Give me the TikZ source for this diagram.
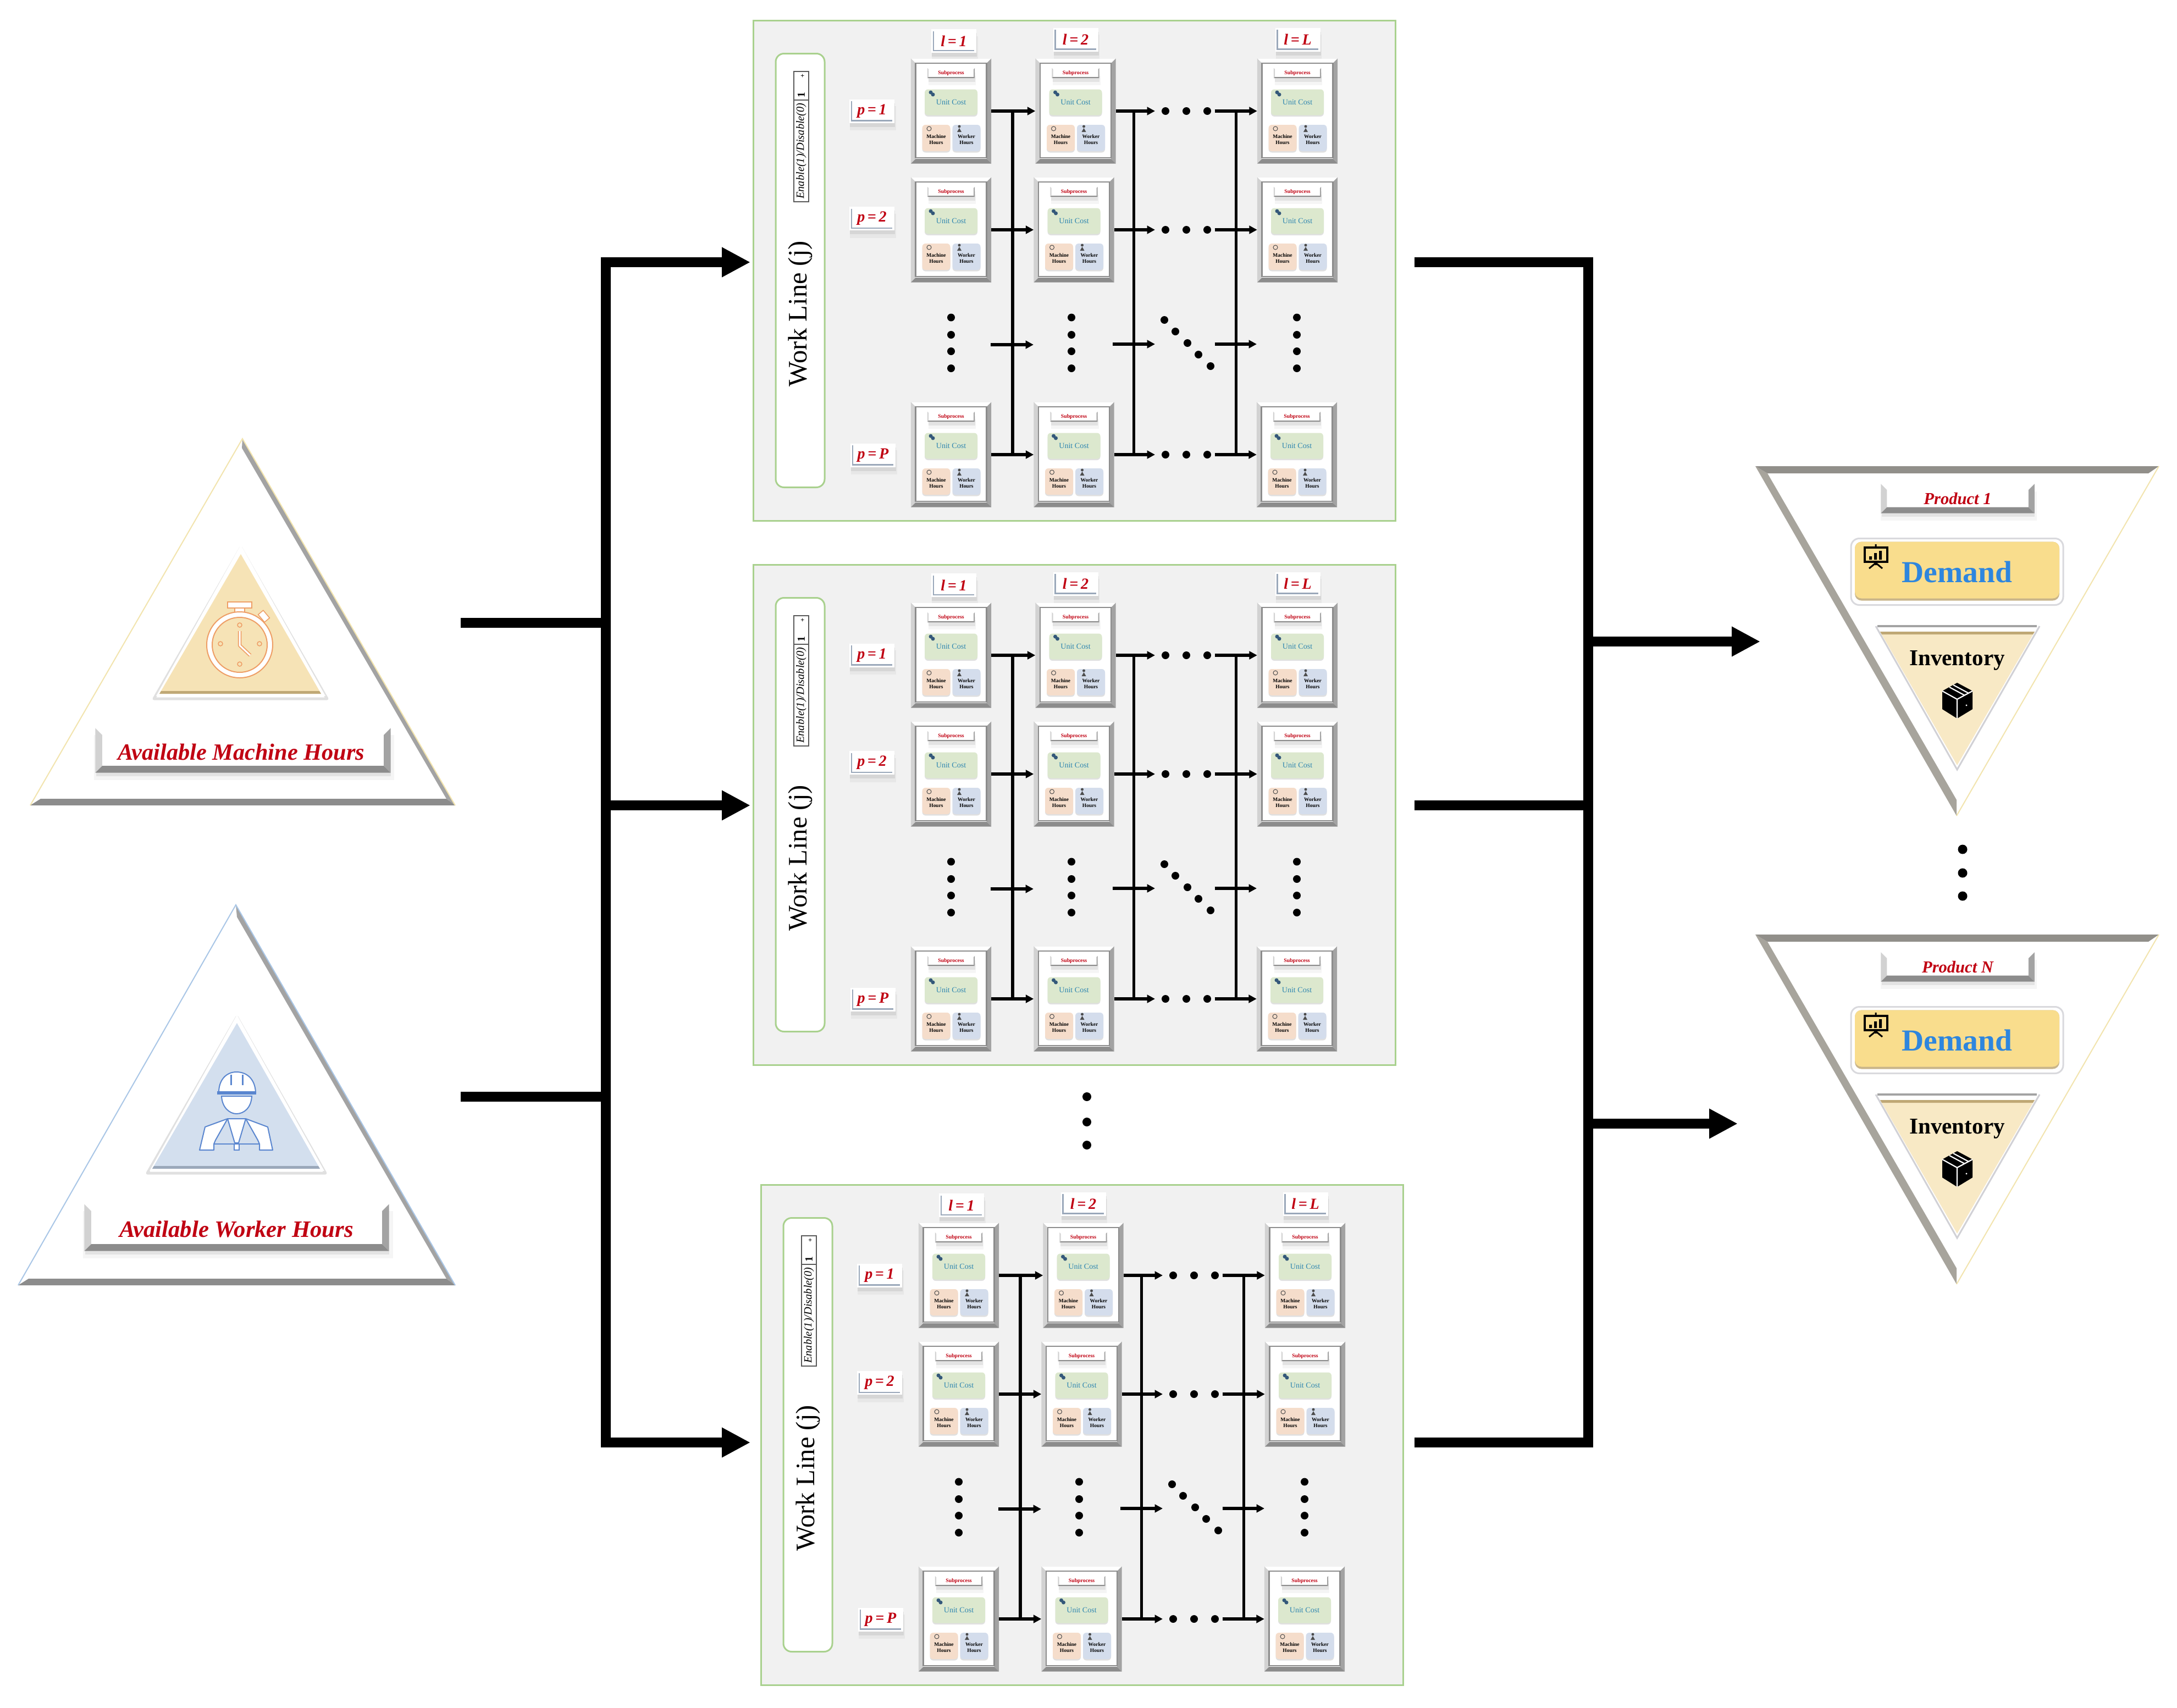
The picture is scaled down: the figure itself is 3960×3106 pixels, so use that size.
\documentclass[tikz,border=0pt]{standalone}
\usepackage{xcolor}
\usepackage{fontspec}
\setmainfont{Liberation Serif}
\usepackage{tikz}
\usetikzlibrary{positioning, arrows.meta, calc, shadows}
\definecolor{panelfill}{HTML}{F1F1F1}
\definecolor{panelline}{HTML}{A9D18E}
\definecolor{labelred}{HTML}{C00012}
\definecolor{bevdark}{HTML}{8C8C8C}
\definecolor{bevmid}{HTML}{A3A3A3}
\definecolor{bevlight}{HTML}{D2D2D2}
\definecolor{sand}{HTML}{F6E3B6}
\definecolor{sandedge}{HTML}{BFA875}
\definecolor{sky}{HTML}{D3DFEE}
\definecolor{skyedge}{HTML}{9AA8BA}
\definecolor{clockline}{HTML}{EE9E66}
\definecolor{hatline}{HTML}{5A86CF}
\definecolor{paleyellow}{HTML}{F2E4AE}
\definecolor{paleblue}{HTML}{A9C6E6}
\definecolor{costgreen}{HTML}{DCE8CE}
\definecolor{costtext}{HTML}{2F86B0}
\definecolor{coinblue}{HTML}{34587A}
\definecolor{hourpeach}{HTML}{F5DDCB}
\definecolor{hourblue}{HTML}{D4DDEC}
\definecolor{demandgold}{HTML}{F9DD8D}
\definecolor{demandblue}{HTML}{2E86DE}

% bevel bands round a bar
\newcommand{\bevels}[2]{
  \fill[bevlight] (#1.south west) -- (#1.north west) -- ($(#1.north west)+(#2,-#2)$) -- ($(#1.south west)+(#2,#2)$) -- cycle;
  \fill[bevmid] (#1.south east) -- (#1.north east) -- ($(#1.north east)+(-#2,-#2)$) -- ($(#1.south east)+(-#2,#2)$) -- cycle;
  \fill[bevdark] (#1.south west) -- (#1.south east) -- ($(#1.south east)+(-#2,#2)$) -- ($(#1.south west)+(#2,#2)$) -- cycle;
}
% index tag with its thin rule
\newcommand{\idxtag}[3]{
  \node[idxbox] (#1) at (#2) {#3};
  \draw[idxrule] ($(#1.north west)+(.45mm,-.45mm)$) |- ($(#1.south east)+(-.45mm,.45mm)$);
}

\tikzset{
  softshadow/.style={
    general shadow={fill=black, opacity=.04, shadow xshift=.2mm, shadow yshift=-1.3mm, shadow scale=1.02},
    general shadow={fill=black, opacity=.07, shadow xshift=.1mm, shadow yshift=-.7mm, shadow scale=1}},
  lightshadow/.style={general shadow={fill=black, opacity=.12, shadow xshift=0mm, shadow yshift=-.25mm}},
  barbox/.style={rectangle, fill=white, inner sep=0pt, softshadow},
  idxbox/.style={rectangle, fill=white, inner sep=0pt, minimum width=8.2mm, minimum height=4.3mm,
    font=\fontsize{8}{9}\selectfont\bfseries\itshape, text=labelred, softshadow},
  idxrule/.style={draw=skyedge, line width=.25mm},
  cardframe/.style={rectangle, fill=white, inner sep=0pt, minimum width=14.5mm, minimum height=19mm},
  cardinner/.style={rectangle, fill=white, draw=bevdark, line width=.25mm, inner sep=0pt,
    minimum width=12.9mm, minimum height=17.2mm},
  subbar/.style={barbox, minimum width=8.5mm, minimum height=1.7mm,
    font=\fontsize{2.8}{3}\selectfont\bfseries, text=labelred},
  costbox/.style={rectangle, rounded corners=.6mm, fill=costgreen, inner sep=0pt, lightshadow,
    minimum width=9.6mm, minimum height=4.7mm, font=\fontsize{4}{4.5}\selectfont, text=costtext},
  hourbox/.style={rectangle, rounded corners=.6mm, inner sep=0pt, minimum width=5.1mm, minimum height=4.8mm, lightshadow,
    align=center, font=\fontsize{2.7}{3.2}\selectfont\bfseries, text depth=0pt},
  panelbg/.style={rectangle, fill=panelfill, draw=panelline, line width=.3mm, inner sep=0pt,
    minimum width=116.8mm, minimum height=91mm},
  linebox/.style={rectangle, rounded corners=1.5mm, fill=white, draw=panelline, line width=.3mm, inner sep=0pt,
    minimum width=8.9mm, minimum height=78.9mm},
  enablecell/.style={rectangle, fill=white, draw=black!65, line width=.12mm, inner sep=0pt, minimum height=2.7mm,
    rotate=90, font=\fontsize{5.8}{6}\selectfont\itshape},
  hop/.style={-{Triangle[length=1.45mm,width=1.45mm]}, line width=.55mm},
  hopbus/.style={line width=.55mm},
  mainline/.style={line width=1.8mm, line cap=rect},
  mainarrow/.style={-{Triangle[length=5.2mm,width=5.1mm]}, line width=1.8mm},
  pics/wcard/.style={code={
    \node[cardframe] (-frame) at (0,0) {};
    \bevels{-frame}{.85mm}
    \node[cardinner] (-inner) at (0,-1) {};
    \node[subbar] (-sub) at (0,-69) {Subprocess};
    \bevels{-sub}{.22mm}
    \node[costbox] (-cost) at (0,-16) {Unit Cost};
    \node[hourbox, fill=hourpeach] (-mach) at (-27,49) {\\Machine\\Hours};
    \node[hourbox, fill=hourblue] (-work) at (28,49) {\\Worker\\Hours};
    \fill[coinblue] (-37,-34) circle[radius=3.5] (-33,-30) circle[radius=3.5];
    \draw[black!70, line width=.1mm] (-40,32) circle[radius=4];
    \fill[black!70] (15,28) circle[radius=2.5] (11,38) -- (15,31) -- (19,38) -- cycle;
  }},
  pics/panel/.style={code={
    \node[panelbg] (-bg) at (1954.5,492) {};
    \node[linebox] (-line) at (1455.5,492) {};
    \node[rotate=90, font=\fontsize{13.8}{15}\selectfont] (-title) at (1456,571) {Work Line (j)};
    \node[enablecell, minimum width=18.5mm] (-enable) at (1457.5,274.5) {Enable(1)/Disable(0)};
    \node[enablecell, minimum width=5.2mm, font=\fontsize{5.5}{6}\selectfont\bfseries, text depth=0pt] (-flag) at (1457.5,156) {1\hspace{2.7mm}{\fontsize{3.5}{4}\selectfont +}};
    % index tags
    \idxtag{-l1}{1735,74.5}{l\,=\,1}
    \idxtag{-l2}{1956.5,72}{l\,=\,2}
    \idxtag{-lL}{2360.5,72}{l\,=\,L}
    \idxtag{-p1}{1586,202}{p\,=\,1}
    \idxtag{-p2}{1586,397.5}{p\,=\,2}
    \idxtag{-pP}{1588,828}{p\,=\,P}
    % cards
    \foreach \cardname/\cardx/\cardy in {a1/1730/202, b1/1956.5/202, c1/2360/202,
        a2/1730/418, b2/1953.5/418, c2/2360/418,
        aP/1730/827, bP/1953.5/827, cP/2359/827}
      \pic (-\cardname) at (\cardx,\cardy) {wcard};
    % hops along each row
    \foreach \rowid/\rowy in {1/202, 2/418, P/827} {
      \coordinate (-d\rowid) at (2101,\rowy);
      \coordinate (-e\rowid) at (2209.5,\rowy);
      \draw[hop] (-a\rowid-frame.east) -- (-b\rowid-frame.west);
      \draw[hop] (-b\rowid-frame.east) -- (-d\rowid);
      \draw[hop] (-e\rowid) -- (-c\rowid-frame.west);
      \foreach \dotx in {2120, 2158, 2196}
        \fill (\dotx,\rowy) circle[radius=7];
    }
    \coordinate (-midA) at (1802,627); \coordinate (-midB) at (1880,627);
    \coordinate (-midC) at (2024,626); \coordinate (-midD) at (2101,626);
    \coordinate (-midE) at (2209.5,626); \coordinate (-midF) at (2286,626);
    \draw[hop] (-midA) -- (-midB);
    \draw[hop] (-midC) -- (-midD);
    \draw[hop] (-midE) -- (-midF);
    % buses
    \coordinate (-busA) at (1842,202); \coordinate (-busB) at (1842,827);
    \coordinate (-busC) at (2062.5,202); \coordinate (-busD) at (2062.5,827);
    \coordinate (-busE) at (2248.5,202); \coordinate (-busF) at (2248.5,827);
    \draw[hopbus] (-busA) -- (-busB);
    \draw[hopbus] (-busC) -- (-busD);
    \draw[hopbus] (-busE) -- (-busF);
    % dots
    \foreach \dotx in {1730, 1949, 2359}
      \foreach \doty in {577.5, 609, 639, 670}
        \fill (\dotx,\doty) circle[radius=7];
    \foreach \dotx/\doty in {2118/582, 2138/603, 2160/624, 2180/645, 2202/666}
      \fill (\dotx,\doty) circle[radius=7];
  }},
  pics/product/.style={code={
    \fill[white] (3193,848) -- (3927,848) -- (3559,1484) -- cycle;
    \fill[bevmid!85!sandedge] (3193,848) -- (3559,1484) -- (3559,1455) -- (3215,861) -- cycle;
    \fill[bevdark!90!sandedge] (3193,848) -- (3927,848) -- (3908,861) -- (3215,861) -- cycle;
    \draw[paleyellow, line width=.2mm] (3927,848) -- (3559,1484);
    \node[barbox, minimum width=27.8mm, minimum height=5.2mm, font=\fontsize{8.7}{10}\selectfont\bfseries\itshape, text=labelred] (-label) at (3561,907) {#1};
    \bevels{-label}{1.1mm}
    \node[rectangle, rounded corners=1.5mm, fill=white, draw=blue!10!black!15, line width=.3mm, inner sep=0pt,
      minimum width=38.6mm, minimum height=12.1mm] (-halo) at (3560,1040) {};
    \node[rectangle, rounded corners=1.2mm, fill=sandedge!85, inner sep=0pt,
      minimum width=37.2mm, minimum height=10.7mm] (-edge) at (3560,1039) {};
    \node[rectangle, rounded corners=1.2mm, fill=demandgold, inner sep=0pt, text=demandblue,
      minimum width=37.2mm, minimum height=10.3mm, font=\fontsize{15.8}{18}\selectfont\bfseries] (-demand) at (3560,1037) {};
    \node[text=demandblue, font=\fontsize{15.8}{18}\selectfont\bfseries] (-demandtext) at (3560,1040) {Demand};
    \draw[black, line width=.4mm] (3392,996) rectangle (3433,1022);
    \fill[black] (3400,1018) rectangle (3405,1012) (3409,1018) rectangle (3414,1006) (3418,1018) rectangle (3423,1002);
    \draw[black, line width=.3mm] (3412,990) -- (3412,996) (3412,1022) -- (3412,1028) (3400,1034) -- (3412,1024) -- (3424,1034);
    \fill[white] (3412,1139) -- (3710,1139) -- (3560,1400) -- cycle;
    \draw[blue!10!black!18, line width=.3mm] (3412,1139) -- (3560,1400) -- (3710,1139);
    \fill[bevmid] (3415,1137) rectangle (3705,1141);
    \fill[sand!80!white] (3420,1149) -- (3701,1149) -- (3560,1392) -- cycle;
    \fill[sandedge] (3420,1149) -- (3701,1149) -- (3698,1154) -- (3423,1154) -- cycle;
    \node[font=\fontsize{11.7}{13}\selectfont\bfseries] (-inventory) at (3560,1201) {Inventory};
    % box
    \fill[black] (3560,1242) -- (3588,1257) -- (3588,1290) -- (3560,1307) -- (3533,1290) -- (3533,1257) -- cycle;
    \draw[white, line width=.22mm] (3533,1257) -- (3560,1272) -- (3588,1257) (3560,1272) -- (3560,1307) (3546,1250) -- (3574,1265) (3553,1246) -- (3581,1261);
    \fill[white] (3577,1283) circle[radius=1.6];
  }}
}

\begin{document}
\begin{tikzpicture}[x=0.1mm, y=-0.1mm]
  \useasboundingbox (0,0) rectangle (3960,3106);

  % machine hours
  \fill[white] (441,798) -- (55,1465) -- (828,1465) -- cycle;
  \fill[bevmid] (441,798) -- (828,1465) -- (812,1453) -- (440,815) -- cycle;
  \fill[bevdark] (55,1465) -- (828,1465) -- (812,1453) -- (74,1453) -- cycle;
  \draw[paleyellow, line width=.2mm] (55,1465) -- (441,798) -- (828,1465);
  \draw[black!12, line width=.5mm, line join=round] (438,996) -- (280,1271) -- (595,1271) -- cycle;
  \fill[white] (438,991) -- (284,1266) -- (592,1266) -- cycle;
  \fill[sand] (438,1008) -- (290,1262) -- (584,1262) -- cycle;
  \fill[sandedge] (293,1257) -- (581,1257) -- (584,1262) -- (290,1262) -- cycle;
  \draw[clockline, line width=.15mm, fill=white] (427,1106) rectangle (445,1120);
  \draw[clockline, line width=.15mm, fill=white] (414,1095) rectangle (458,1106);
  \draw[clockline, line width=.15mm, fill=white, rotate around={40:(480,1121)}] (474,1112) rectangle (486,1130);
  \draw[clockline, line width=.2mm, fill=white] (436,1173) ellipse[x radius=60, y radius=60];
  \draw[clockline, line width=.2mm, fill=sand] (436,1173) ellipse[x radius=50, y radius=50];
  \foreach \dotx/\doty in {436/1137, 401/1171, 472/1171, 436/1208}
    \draw[clockline, line width=.15mm] (\dotx,\doty) circle[radius=4];
  \draw[clockline, line width=.65mm, line join=round] (436,1148) -- (436,1174) -- (455,1192);
  \draw[white, line width=.3mm, line join=round] (436,1148) -- (436,1174) -- (455,1192);
  \node[barbox, minimum width=53.6mm, minimum height=8mm] (machinebar) at (442,1365) {};
  \bevels{machinebar}{1.25mm}
  \node[font=\fontsize{12.05}{14}\selectfont\bfseries\itshape, text=labelred] (machinetext) at (439,1368) {Available Machine Hours};

  % worker hours
  \fill[white] (429,1646) -- (33,2338) -- (828,2338) -- cycle;
  \fill[bevmid] (429,1646) -- (828,2338) -- (812,2326) -- (431,1668) -- cycle;
  \fill[bevdark] (33,2338) -- (828,2338) -- (812,2326) -- (52,2326) -- cycle;
  \draw[paleblue, line width=.2mm] (33,2338) -- (429,1646) -- (828,2338);
  \draw[black!12, line width=.5mm, line join=round] (431,1850) -- (268,2134) -- (592,2134) -- cycle;
  \fill[white] (431,1846) -- (272,2130) -- (590,2130) -- cycle;
  \fill[sky] (431,1861) -- (277,2126) -- (582,2126) -- cycle;
  \fill[skyedge] (280,2121) -- (579,2121) -- (582,2126) -- (277,2126) -- cycle;
  \draw[hatline, line width=.2mm, fill=white] (403,1994) .. controls (404,2015) and (418,2026) .. (430,2026) .. controls (444,2026) and (457,2015) .. (458,1994) -- cycle;
  \draw[hatline, line width=.2mm, fill=white] (398,1987) .. controls (398,1964) and (412,1950) .. (430,1950) .. controls (450,1950) and (464,1964) .. (465,1987) -- cycle;
  \fill[hatline] (395,1985) rectangle (466,1991);
  \draw[hatline, line width=.3mm] (420,1955) -- (420,1974) (441,1955) -- (441,1974);
  \draw[hatline, line width=.2mm, fill=white, line join=round] (363,2092) -- (373,2050) -- (414,2035) -- (392,2074) -- (389,2081) -- (389,2092) -- cycle;
  \draw[hatline, line width=.2mm, fill=white, line join=round] (496,2092) -- (487,2050) -- (447,2035) -- (469,2074) -- (472,2081) -- (472,2092) -- cycle;
  \draw[hatline, line width=.2mm, fill=white, line join=round] (414,2035) -- (447,2035) -- (434,2079) -- (427,2079) -- cycle;
  \draw[hatline, line width=.2mm, fill=white] (389,2081) -- (472,2081) (426,2081) -- (426,2092) -- (435,2092) -- (435,2081);
  \node[barbox, minimum width=55.3mm, minimum height=8.4mm] (workerbar) at (430.5,2233) {};
  \bevels{workerbar}{1.25mm}
  \node[font=\fontsize{12.15}{14}\selectfont\bfseries\itshape, text=labelred] (workertext) at (430,2236) {Available Worker Hours};

  % work lines
  \pic (lineA) at (0,0) {panel};
  \pic (lineB) at (0,990) {panel};
  \pic (lineC) at (14,2118) {panel};
  \foreach \doty in {1995, 2041, 2083}
    \fill (1977,\doty) circle[radius=8];

  % products
  \pic (prodA) at (0,0) {product={Product 1}};
  \pic (prodB) at (0,852) {product={Product N}};
  \foreach \doty in {1545, 1588, 1630}
    \fill (3570,\doty) circle[radius=8.5];

  % main connectors
  \coordinate (machineout) at (838,1133);
  \coordinate (workerout) at (838,1995);
  \coordinate (leftbusA) at (1102,477);
  \coordinate (leftbusB) at (1102,2624);
  \coordinate (inA) at (1365,477);
  \coordinate (inB) at (1365,1465);
  \coordinate (inC) at (1365,2624);
  \coordinate (outA) at (2573,477);
  \coordinate (outB) at (2573,1465);
  \coordinate (outC) at (2573,2624);
  \coordinate (rightbusA) at (2889,477);
  \coordinate (rightbusB) at (2889,2624);
  \coordinate (prodinA) at (3202,1167);
  \coordinate (prodinB) at (3161,2044);
  \draw[mainline, line cap=butt] (machineout) -- (machineout -| leftbusA);
  \draw[mainline, line cap=butt] (workerout) -- (workerout -| leftbusA);
  \draw[mainline] (leftbusA) -- (leftbusB);
  \draw[mainarrow] (leftbusA) -- (inA);
  \draw[mainarrow] (leftbusA |- inB) -- (inB);
  \draw[mainarrow] (leftbusB) -- (inC);
  \draw[mainline, line cap=butt] (outA) -- (rightbusA);
  \draw[mainline, line cap=butt] (outB) -- (outB -| rightbusA);
  \draw[mainline, line cap=butt] (outC) -- (rightbusB);
  \draw[mainline] (rightbusA) -- (rightbusB);
  \draw[mainarrow] (rightbusA |- prodinA) -- (prodinA);
  \draw[mainarrow] (rightbusA |- prodinB) -- (prodinB);
\end{tikzpicture}
\end{document}
